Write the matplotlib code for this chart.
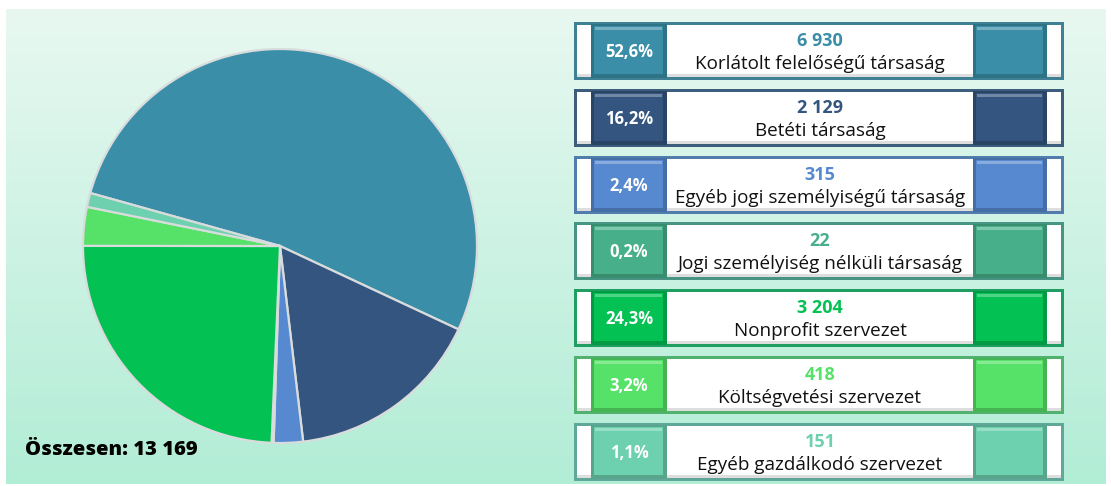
import numpy as np
import matplotlib
matplotlib.use("Agg")
import matplotlib.pyplot as plt
from matplotlib.patches import Rectangle
from matplotlib.colors import to_rgb, LinearSegmentedColormap

# ---- data ----
categories = ["Korlátolt felelőségű társaság", "Betéti társaság",
              "Egyéb jogi személyiségű társaság", "Jogi személyiség nélküli társaság",
              "Nonprofit szervezet", "Költségvetési szervezet", "Egyéb gazdálkodó szervezet"]
counts = [6930, 2129, 315, 22, 3204, 418, 151]
count_labels = ["6 930", "2 129", "315", "22", "3 204", "418", "151"]
pct_labels = ["52,6%", "16,2%", "2,4%", "0,2%", "24,3%", "3,2%", "1,1%"]
colors = ["#3a8ea8", "#34557f", "#5689cf", "#47b08b", "#03c153", "#56e168", "#6dd0ae"]
total_label = "Összesen: 13 169"

W, H = 1111, 486
fig = plt.figure(figsize=(W / 100, H / 100), dpi=100)
fig.patch.set_facecolor("white")

# background axes in pixel coordinates
bg = fig.add_axes([0, 0, 1, 1])
bg.set_xlim(0, W)
bg.set_ylim(H, 0)
bg.axis("off")
grad = np.linspace(0, 1, 256).reshape(-1, 1)
cmap = LinearSegmentedColormap.from_list("bgg", ["#e8f8f1", "#b2edd6"])
bg.imshow(grad, cmap=cmap, extent=(6, 1106, 484, 10), aspect="auto", zorder=0)

def darker(c, f=0.72):
    r, g, b = to_rgb(c)
    return (r * f, g * f, b * f)

def lighter(c, f=0.35):
    r, g, b = to_rgb(c)
    return (r + (1 - r) * f, g + (1 - g) * f, b + (1 - b) * f)

font = ["Open Sans", "DejaVu Sans"]

top0, step, bh = 22, 66.8, 58
for i, (cat, cnt, pct, col) in enumerate(zip(categories, count_labels, pct_labels, colors)):
    t = top0 + step * i
    frame = tuple(0.6 * np.array(to_rgb(col)) + 0.4 * np.array(to_rgb("#4a6a78")))
    bg.add_patch(Rectangle((574, t), 490, bh, facecolor=frame, edgecolor="none", zorder=2))
    bg.add_patch(Rectangle((577, t + 3), 484, bh - 6, facecolor="white", edgecolor="none", zorder=3))
    # subtle shading of white strips
    bg.add_patch(Rectangle((577, t + bh - 6), 484, 3, facecolor="#dedede", edgecolor="none", zorder=3.1))
    for x0, w in ((591, 76), (973, 74)):
        bg.add_patch(Rectangle((x0, t + 2), w, bh - 4, facecolor=darker(col, 0.8),
                               edgecolor="none", zorder=4))
        bg.add_patch(Rectangle((x0 + 3, t + 4), w - 7, bh - 10, facecolor=col,
                               edgecolor="none", zorder=5))
        bg.add_patch(Rectangle((x0 + 4, t + 5), w - 9, 3, facecolor=lighter(col, 0.3),
                               edgecolor="none", zorder=6))
    bg.text(629, t + bh / 2 + 1, pct, ha="center", va="center", color="white",
            fontsize=12, fontweight="bold", family=font, zorder=7)
    bg.text(820, t + 19, cnt, ha="center", va="center", color=col,
            fontsize=13, fontweight="bold", family=font, zorder=7)
    bg.text(820, t + 42, cat, ha="center", va="center", color="#111111",
            fontsize=13.6, family=font, zorder=7)

bg.text(25, 450, total_label, ha="left", va="center", color="black",
        fontsize=14.5, fontweight="heavy", family=font, zorder=7)

# pie
cx, cy, r = 280, 246, 197
pax = fig.add_axes([(cx - r) / W, (H - cy - r) / H, 2 * r / W, 2 * r / H])
wedges, _ = pax.pie(counts, colors=colors, startangle=164.4, counterclock=False,
                    wedgeprops=dict(edgecolor="#d9dcdc", linewidth=1.6))
pax.set_xlim(-1.0, 1.0)
pax.set_ylim(-1.0, 1.0)
pax.axis("off")

fig.savefig("out.png", dpi=100, facecolor="white")
